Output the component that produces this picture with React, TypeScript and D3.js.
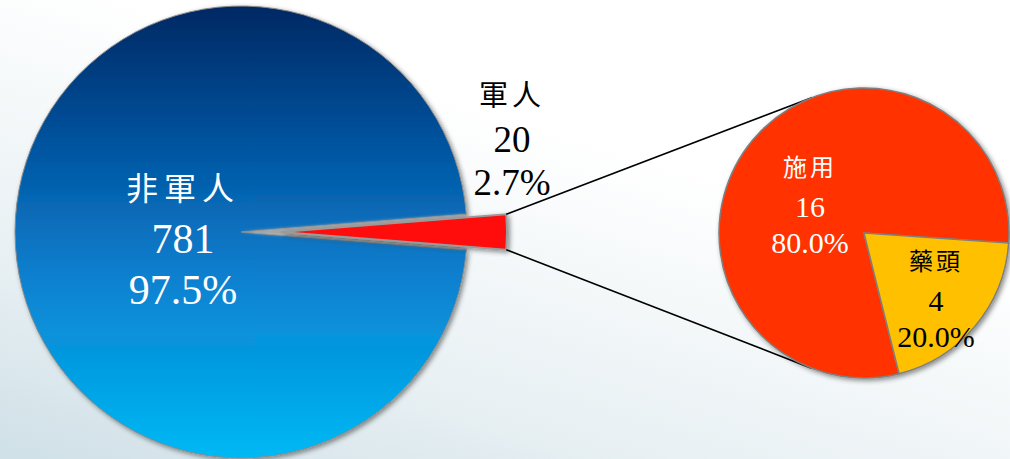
import React from 'react';
import * as d3 from 'd3';

// ---- data ----
const mainCategories = ['非軍人', '軍人'];
const mainValues = [781, 20];
const mainPercentLabels = ['97.5%', '2.7%'];
const subCategories = ['施用', '藥頭'];
const subValues = [16, 4];
const subPercentLabels = ['80.0%', '20.0%'];

const W = 1010;
const H = 459;

const serif = "'Liberation Serif'";
const cjk = "'Noto Sans CJK TC'";

export default function App() {
  // main pie geometry
  const mc = { x: 241, y: 232 };
  const mr = 226;
  const explode = 40;
  const total = d3.sum(mainValues);
  const smallAngle = (2 * Math.PI * mainValues[1]) / total;
  const mainPie = d3
    .pie<number>()
    .sort(null)
    .startAngle(Math.PI / 2 + smallAngle / 2)
    .endAngle(Math.PI / 2 + smallAngle / 2 + 2 * Math.PI);
  const mainArcs = mainPie(mainValues);
  const mainArc = d3.arc<d3.PieArcDatum<number>>().innerRadius(0).outerRadius(mr);

  const big = mainArcs[0];
  const small = mainArcs[1];
  const mid = (small.startAngle + small.endAngle) / 2;
  const ox = mc.x + explode * Math.sin(mid);
  const oy = mc.y - explode * Math.cos(mid);

  // sub pie geometry
  const sc = { x: 864, y: 233 };
  const sr = 145;
  const subPie = d3
    .pie<number>()
    .sort(null)
    .startAngle((166 * Math.PI) / 180)
    .endAngle((166 * Math.PI) / 180 + 2 * Math.PI);
  const subArcs = subPie(subValues);
  const subArc = d3.arc<d3.PieArcDatum<number>>().innerRadius(0).outerRadius(sr);
  const subColors = ['#ff3300', '#ffc000'];

  // connector lines: tangents from exploded slice corners to sub pie
  const corner = (a: number) => ({
    x: ox + mr * Math.sin(a),
    y: oy - mr * Math.cos(a),
  });
  const cTop = corner(small.startAngle);
  const cBot = corner(small.endAngle);
  const tangents = (p: { x: number; y: number }) => {
    const dx = p.x - sc.x;
    const dy = p.y - sc.y;
    const d = Math.hypot(dx, dy);
    const base = Math.atan2(dy, dx);
    const off = Math.acos(sr / d);
    return [base + off, base - off].map((phi) => ({
      x: sc.x + sr * Math.cos(phi),
      y: sc.y + sr * Math.sin(phi),
    }));
  };
  const topEnd = tangents(cTop).sort((a, b) => a.y - b.y)[0];
  const botEnd = tangents(cBot).sort((a, b) => b.y - a.y)[0];

  const subLabelPos = [
    { x: 810, y: 166, fill: '#ffffff' },
    { x: 936, y: 260, fill: '#000000' },
  ];

  return (
    <svg
      width={W}
      height={H}
      style={{ position: 'absolute', left: 0, top: 0 }}
      xmlns="http://www.w3.org/2000/svg"
    >
      <defs>
        <linearGradient id="bg" x1="0" y1="1" x2="0.5" y2="0.25">
          <stop offset="0" stopColor="#cfe0e7" />
          <stop offset="0.4" stopColor="#e8f0f3" />
          <stop offset="1" stopColor="#ffffff" />
        </linearGradient>
        <linearGradient id="blue" x1="0" y1="0" x2="0" y2="1">
          <stop offset="0" stopColor="#062863" />
          <stop offset="0.3" stopColor="#04539e" />
          <stop offset="0.6" stopColor="#0a80cf" />
          <stop offset="1" stopColor="#00b9f4" />
        </linearGradient>
        <filter id="shadow" x="-20%" y="-20%" width="140%" height="140%">
          <feDropShadow dx="2" dy="2" stdDeviation="2.5" floodColor="#000" floodOpacity="0.45" />
        </filter>
        <filter id="blur1">
          <feGaussianBlur stdDeviation="1.5" />
        </filter>
      </defs>
      <rect x={0} y={0} width={W} height={H} fill="url(#bg)" />

      {/* main pie */}
      <g transform={`translate(${mc.x},${mc.y})`}>
        <path d={mainArc(big) || ''} fill="url(#blue)" stroke="#8a8a8a" strokeWidth={1} filter="url(#shadow)" />
        <path d={mainArc(small) || ''} fill="#a6a6a6" filter="url(#blur1)" />
      </g>
      <g transform={`translate(${ox},${oy})`}>
        <path d={mainArc(small) || ''} fill="#ff0a0a" stroke="#9a9a9a" strokeWidth={2} filter="url(#shadow)" />
      </g>

      {/* connector lines */}
      <line x1={cTop.x} y1={cTop.y} x2={topEnd.x} y2={topEnd.y} stroke="#000" strokeWidth={1.6} />
      <line x1={cBot.x} y1={cBot.y} x2={botEnd.x} y2={botEnd.y} stroke="#000" strokeWidth={1.6} />

      {/* sub pie */}
      <g transform={`translate(${sc.x},${sc.y})`} filter="url(#shadow)">
        {subArcs.map((a, i) => (
          <path key={i} d={subArc(a) || ''} fill={subColors[i]} stroke="#7f7f7f" strokeWidth={1.5} />
        ))}
      </g>

      {/* main labels */}
      <g fill="#ffffff" textAnchor="middle">
        <text x={183} y={200} fontSize={32} letterSpacing={6} style={{ fontFamily: cjk }}>{mainCategories[0]}</text>
        <text x={183} y={253} fontSize={42} style={{ fontFamily: serif }}>{mainValues[0]}</text>
        <text x={183} y={304} fontSize={42} style={{ fontFamily: serif }}>{mainPercentLabels[0]}</text>
      </g>
      <g fill="#000000" textAnchor="middle">
        <text x={512} y={106} fontSize={29} letterSpacing={4} style={{ fontFamily: cjk }}>{mainCategories[1]}</text>
        <text x={512} y={152} fontSize={37} style={{ fontFamily: serif }}>{mainValues[1]}</text>
        <text x={512} y={195} fontSize={37} style={{ fontFamily: serif }}>{mainPercentLabels[1]}</text>
      </g>

      {/* sub labels */}
      {subArcs.map((a, i) => (
        <g key={i} fill={subLabelPos[i].fill} textAnchor="middle">
          <text x={subLabelPos[i].x} y={subLabelPos[i].y + 10} fontSize={24} letterSpacing={3} style={{ fontFamily: cjk }}>
            {subCategories[i]}
          </text>
          <text x={subLabelPos[i].x} y={subLabelPos[i].y + 51} fontSize={30} style={{ fontFamily: serif }}>{subValues[i]}</text>
          <text x={subLabelPos[i].x} y={subLabelPos[i].y + 87} fontSize={30} style={{ fontFamily: serif }}>{subPercentLabels[i]}</text>
        </g>
      ))}
    </svg>
  );
}
